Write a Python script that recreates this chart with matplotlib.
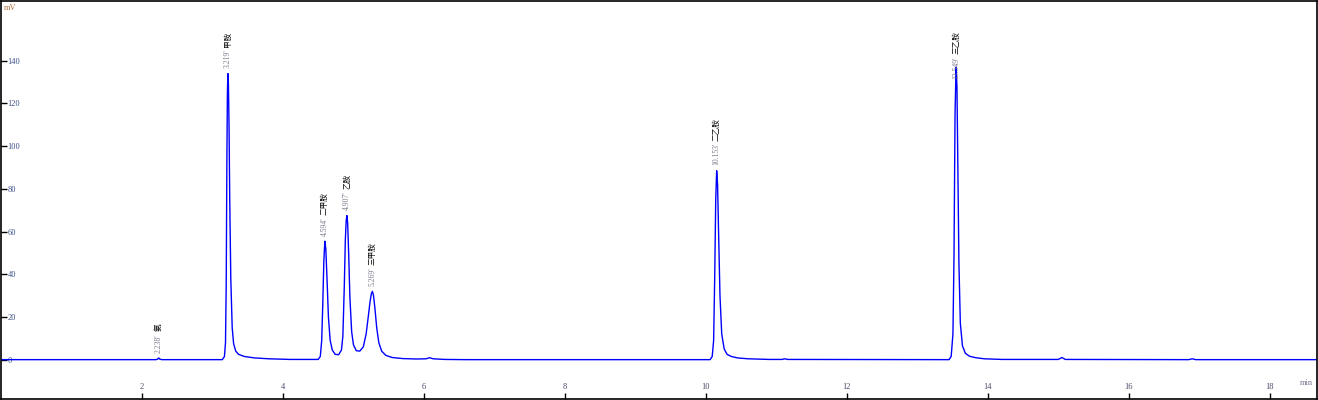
import matplotlib
matplotlib.use('Agg')
import matplotlib.pyplot as plt

# chromatogram trace (min, mV)
time_min = [0.0, 2.20, 2.225, 2.238, 2.25, 2.28,
            3.14, 3.17, 3.185, 3.195, 3.205, 3.212, 3.219, 3.226, 3.235, 3.245, 3.26, 3.28, 3.30, 3.33,
            3.37, 3.45, 3.6, 3.8, 4.1,
            4.50, 4.53, 4.55, 4.565, 4.58, 4.594, 4.608, 4.625, 4.645, 4.67, 4.70, 4.74, 4.79, 4.83,
            4.85, 4.87, 4.885, 4.897, 4.907, 4.918, 4.932, 4.95, 4.975, 5.0, 5.04, 5.09, 5.14, 5.18,
            5.21, 5.235, 5.255, 5.269, 5.285, 5.305, 5.33, 5.36, 5.40, 5.46, 5.55, 5.7, 5.9, 6.03,
            6.08, 6.13, 6.3, 6.6,
            10.06, 10.09, 10.11, 10.125, 10.14, 10.153, 10.166, 10.18, 10.2, 10.225, 10.26, 10.3,
            10.36, 10.45, 10.6, 10.9, 11.08, 11.12, 11.16,
            13.45, 13.48, 13.505, 13.52, 13.535, 13.549, 13.562, 13.575, 13.59, 13.61, 13.64, 13.68,
            13.74, 13.83, 13.95, 14.2,
            15.0, 15.05, 15.1, 16.85, 16.9, 16.95, 18.67]
signal_mv = [0, 0, 0.3, 0.8, 0.3, 0,
             0, 1.5, 8, 35, 95, 125, 134, 130, 110, 75, 38, 15, 7.5, 4,
             2.5, 1.5, 0.8, 0.4, 0.1,
             0.1, 1.5, 9, 26, 46, 55.5, 52, 38, 20, 9, 4.5, 2.5, 2.3, 4.5,
             11, 34, 56, 65, 67.5, 64, 50, 29, 13, 7, 4.2, 4, 6, 12,
             20, 27, 31, 32, 30, 24, 15, 8, 4, 2, 1, 0.5, 0.3, 0.4,
             0.9, 0.4, 0.1, 0,
             0, 1.5, 9, 38, 75, 88.5, 82, 60, 30, 12, 5, 2.5,
             1.5, 0.8, 0.4, 0.1, 0.1, 0.4, 0.1,
             0, 1.5, 12, 48, 115, 137, 128, 90, 45, 17, 6.5, 3,
             1.6, 0.9, 0.4, 0.1,
             0.1, 1.0, 0.1, 0, 0.4, 0, 0]

peak_times = [2.238, 3.219, 4.594, 4.907, 5.269, 10.153, 13.549]
peak_heights = [0.8, 134, 55.5, 67.5, 32, 88.5, 137]
peak_names = ['氨', '甲胺', '二甲胺', '乙胺', '三甲胺', '二乙胺', '三乙胺']

x_ticks = [2, 4, 6, 8, 10, 12, 14, 16, 18]
y_ticks = [0, 20, 40, 60, 80, 100, 120, 140]

plt.rcParams['font.family'] = ['Liberation Serif', 'Noto Sans CJK SC']

W, H = 1318, 400
fig = plt.figure(figsize=(W / 100, H / 100), dpi=100)
ax = fig.add_axes([1 / W, 1.5 / H, 1316 / W, 397.5 / H])

ax.plot(time_min, signal_mv, color='#0000ff', lw=1.0)
ax.set_xlim(0, 18.67)
ax.set_ylim(-18.2, 168)

for s in ax.spines.values():
    s.set_color('black')
    s.set_linewidth(1.2)

ax.set_xticks(x_ticks)
ax.set_yticks(y_ticks)
ax.tick_params(direction='in', length=4, width=1, color='black', labelsize=6)
ax.tick_params(axis='y', pad=-4.7, labelcolor='#3b4f8a')
ax.tick_params(axis='x', pad=-11.5, labelcolor='#4a4a6a')
for lab in ax.get_yticklabels():
    lab.set_horizontalalignment('left')

fig.text(4 / W, 1 - 8 / H, 'mV', ha='left', va='center', fontsize=6, color='#b07040')
fig.text(1300 / W, 1 - 383 / H, 'min', ha='left', va='center', fontsize=6, color='#707090')

# peak labels: retention time (grey) then compound name (black), rotated
fig.canvas.draw()
renderer = fig.canvas.get_renderer()
px_per_mv = ax.transData.transform((0, 1))[1] - ax.transData.transform((0, 0))[1]
for t, h, name in zip(peak_times, peak_heights, peak_names):
    num = ax.text(t, 0, f"{t:.3f}'", rotation=90, ha='center', va='bottom',
                  fontsize=5.5, color='#7a7a8c')
    nm = ax.text(t, 0, name, rotation=90, ha='center', va='bottom',
                 fontsize=5.5, color='black', family=['Noto Sans CJK SC'])
    hn = num.get_window_extent(renderer).height / px_per_mv
    hm = nm.get_window_extent(renderer).height / px_per_mv
    gap = 2.5 / px_per_mv
    base = min(h + 2.5, 154 - hn - gap - hm)
    num.set_y(base)
    nm.set_y(base + hn + gap)

fig.savefig('out.png', dpi=100)
